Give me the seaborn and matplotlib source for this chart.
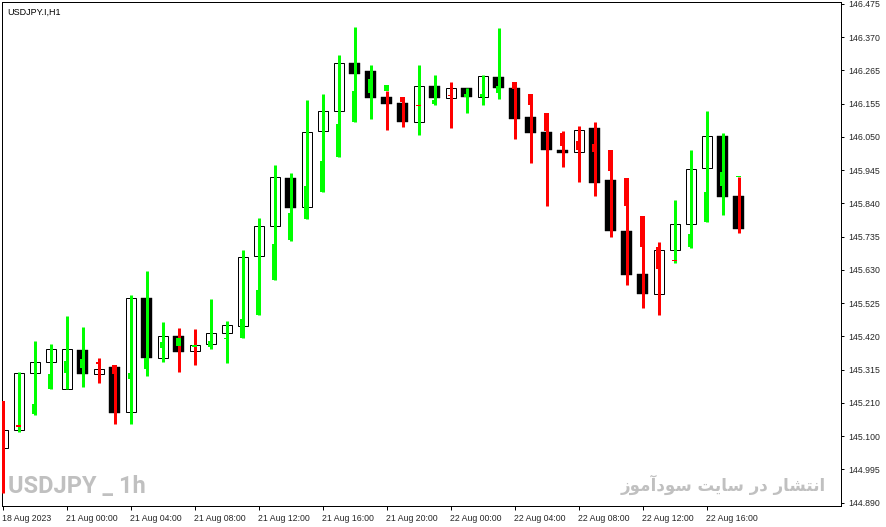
import numpy as np
import pandas as pd
import matplotlib
matplotlib.use("Agg")
import matplotlib.pyplot as plt
import seaborn as sns

sns.set_style("white")
plt.rcParams['font.family'] = ['Liberation Sans', 'DejaVu Sans']

# ---- data ----
open_ = [145.064, 145.121, 145.303, 145.338, 145.252, 145.376, 145.299, 145.322, 145.179, 145.541,
         145.350, 145.420, 145.373, 145.395, 145.430, 145.452, 145.675, 145.770, 145.923, 145.830,
         146.072, 146.133, 146.288, 146.263, 146.180, 146.161, 146.101, 146.215, 146.177, 146.206,
         146.180, 146.241, 146.209, 146.114, 146.069, 146.012, 146.005, 146.079, 145.916, 145.754,
         145.617, 145.554, 145.694, 145.776, 145.954, 146.056, 145.865]
close = [145.121, 145.303, 145.338, 145.379, 145.379, 145.299, 145.315, 145.175, 145.541, 145.350,
         145.420, 145.369, 145.392, 145.430, 145.455, 145.671, 145.770, 145.926, 145.827, 146.069,
         146.133, 146.288, 146.253, 146.177, 146.158, 146.098, 146.215, 146.177, 146.209, 146.180,
         146.247, 146.209, 146.110, 146.066, 146.009, 146.002, 146.075, 145.907, 145.754, 145.614,
         145.554, 145.694, 145.776, 145.951, 146.056, 145.862, 145.760]
high = [145.213, 145.306, 145.404, 145.395, 145.484, 145.449, 145.350, 145.328, 145.551, 145.627,
        145.465, 145.446, 145.442, 145.538, 145.468, 145.694, 145.796, 145.964, 145.939, 146.168,
        146.190, 146.311, 146.400, 146.282, 146.199, 146.180, 146.282, 146.250, 146.228, 146.206,
        146.250, 146.397, 146.225, 146.187, 146.129, 146.072, 146.088, 146.101, 146.012, 145.923,
        145.802, 145.719, 145.853, 146.012, 146.133, 146.063, 145.926]
low = [144.921, 145.115, 145.169, 145.252, 145.252, 145.258, 145.271, 145.140, 145.140, 145.293,
       145.338, 145.306, 145.328, 145.379, 145.334, 145.414, 145.487, 145.598, 145.722, 145.792,
       145.878, 145.989, 146.098, 146.110, 146.075, 146.085, 146.059, 146.155, 146.082, 146.129,
       146.155, 146.174, 146.044, 145.970, 145.834, 145.958, 145.910, 145.865, 145.735, 145.582,
       145.509, 145.487, 145.652, 145.700, 145.783, 145.805, 145.748]
wick_dir = list("r" "ggggg" "rr" "ggg" "rr" "ggggggggggg" "rr" "gg" "r" "ggg"
                "rrrrrrrrrr" "gggg" "r")
sig_open = [145.213, 145.136, 145.172, 145.252, 145.303, 145.318, 145.336, 145.328, 145.283, 145.315,
            145.382, 145.388, 145.386, 145.385, 145.409, 145.414, 145.487, 145.598, 145.725, 145.792,
            145.878, 145.989, 146.098, 146.193, 146.199, 146.180, 146.154, 146.158, 146.185, 146.180,
            146.180, 146.193, 146.225, 146.187, 146.129, 146.066, 146.040, 146.031, 146.012, 145.923,
            145.802, 145.703, 145.661, 145.703, 145.783, 145.897, 145.924]
sig_close = [145.128, 145.132, 145.204, 145.299, 145.341, 145.347, 145.332, 145.299, 145.303, 145.350,
             145.401, 145.414, 145.390, 145.404, 145.413, 145.474, 145.566, 145.713, 145.811, 145.897,
             145.977, 146.094, 146.199, 146.237, 146.218, 146.164, 146.150, 146.168, 146.181, 146.190,
             146.190, 146.215, 146.203, 146.155, 146.072, 146.024, 146.009, 146.005, 145.945, 145.834,
             145.703, 145.633, 145.657, 145.745, 145.878, 145.942, 145.928]
sig_dir = list("rr" "gggg" "rr" "ggggggggggggggggg" "rr" "g" "r" "ggg"
               "rrrrrrrrrrr" "gggg")

x_tick_labels = ["18 Aug 2023", "21 Aug 00:00", "21 Aug 04:00", "21 Aug 08:00", "21 Aug 12:00",
                 "21 Aug 16:00", "21 Aug 20:00", "22 Aug 00:00", "22 Aug 04:00", "22 Aug 08:00",
                 "22 Aug 12:00", "22 Aug 16:00"]
y_tick_labels = ["146.475", "146.370", "146.265", "146.155", "146.050", "145.945", "145.840", "145.735",
                 "145.630", "145.525", "145.420", "145.315", "145.210", "145.100", "144.995", "144.890"]

title_text = "USDJPY.I,H1"
mark_text = "USDJPY _ 1h"
# Persian: "انتشار در سایت سودآموز" written in shaped presentation forms, visual order
persian_text = ("\uFEAF\uFEEE\uFEE3\uFE81\uFEA9\uFEEE\uFEB3 "
                "\uFE96\uFBFE\uFE8E\uFEB3 "
                "\uFEAD\uFEA9 "
                "\uFEAD\uFE8E\uFEB8\uFE98\uFEE7\uFE8D")

df = pd.DataFrame({"open": open_, "close": close, "high": high, "low": low,
                   "wdir": wick_dir, "sopen": sig_open, "sclose": sig_close, "sdir": sig_dir})
df["i"] = np.arange(len(df))
df["bull"] = df["close"] >= df["open"]

GREEN = "#00FF00"
RED = "#FF0000"
cmap = {"g": GREEN, "r": RED}

W, H = 887, 527
fig = plt.figure(figsize=(W / 100, H / 100), dpi=100)
fig.patch.set_facecolor("white")
ax = fig.add_axes([2 / W, 21 / H, 839 / W, 504.5 / H])
ax.set_facecolor("white")

px = 0.72  # one pixel in points

# main candle bodies
bull = df[df["bull"]]
bear = df[~df["bull"]]
ax.bar(bull["i"], bull["close"] - bull["open"], bottom=bull["open"], width=10 / 16,
       facecolor="white", edgecolor="black", linewidth=1.0 * px, zorder=2)
ax.bar(bear["i"], bear["close"] - bear["open"], bottom=bear["open"], width=11 / 16,
       facecolor="black", edgecolor="black", linewidth=0.3, zorder=2)

# coloured wicks
ax.vlines(df["i"], df["low"], df["high"], colors=[cmap[c] for c in df["wdir"]],
          linewidth=3 * px, zorder=3)
# coloured thick bodies
ax.bar(df["i"], df["sclose"] - df["sopen"], bottom=df["sopen"], width=5 / 16,
       color=[cmap[c] for c in df["sdir"]], linewidth=0, zorder=4)

ax.set_xlim(-1 / 16, 838 / 16)
ax.set_ylim(144.8796, 146.4823)

# axes styling
for s in ax.spines.values():
    s.set_visible(True)
    s.set_color("black")
    s.set_linewidth(1.0 * px)

ax.yaxis.tick_right()
yt = np.linspace(146.475, 144.890, len(y_tick_labels))
ax.set_yticks(yt)
ax.set_yticklabels(y_tick_labels)
xt = np.arange(0, 4 * len(x_tick_labels), 4)
ax.set_xticks(xt)
ax.set_xticklabels(x_tick_labels, ha="left")
ax.tick_params(axis="x", direction="out", length=4 * px, width=1.0 * px, color="black",
               labelsize=6.3, pad=3, bottom=True)
ax.tick_params(axis="y", direction="out", length=3 * px, width=1.0 * px, color="black",
               labelsize=6.3, pad=3, right=True, left=False)
for lab in ax.get_xticklabels():
    lab.set_transform(lab.get_transform() + matplotlib.transforms.ScaledTranslation(-1 / 100, 0, fig.dpi_scale_trans))
ax.grid(False)

fig.text(7 / W, 1 - 12 / H, title_text, fontsize=6.5, color="black", va="center", ha="left")
fig.text(8 / W, 1 - 486 / H, mark_text, fontsize=17, fontweight="bold", color="#C0C0C0",
         va="center", ha="left", family=["Roboto", "DejaVu Sans"], zorder=0)
fig.text(826 / W, 1 - 485 / H, persian_text, fontsize=12, fontweight="bold", color="#C0C0C0",
         va="center", ha="right", family=["DejaVu Sans"], zorder=0)

fig.savefig("out.png", dpi=100, facecolor="white")
